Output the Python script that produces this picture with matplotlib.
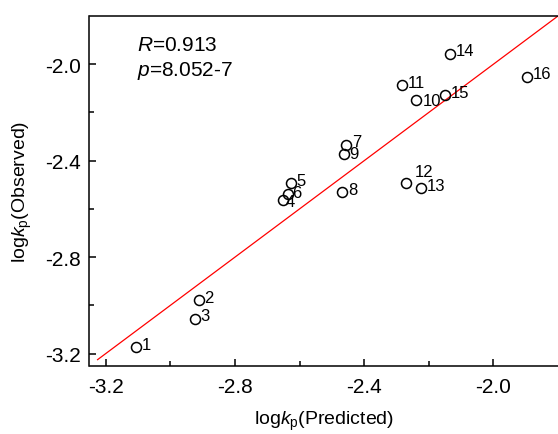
import matplotlib
matplotlib.use('Agg')
import matplotlib.pyplot as plt

plt.rcParams['font.family'] = ['Liberation Sans', 'DejaVu Sans']
plt.rcParams['mathtext.fontset'] = 'custom'
plt.rcParams['mathtext.rm'] = 'Liberation Sans'
plt.rcParams['mathtext.it'] = 'Liberation Sans:italic'

# Predicted vs observed log kp
labels = ['1', '2', '3', '4', '5', '6', '7', '8', '9', '10', '11', '12', '13', '14', '15', '16']
predicted = [-3.105, -2.911, -2.925, -2.651, -2.626, -2.636, -2.455, -2.467, -2.462,
             -2.240, -2.282, -2.270, -2.224, -2.134, -2.149, -1.896]
observed = [-3.172, -2.979, -3.055, -2.563, -2.492, -2.537, -2.333, -2.529, -2.371,
            -2.149, -2.088, -2.492, -2.513, -1.956, -2.129, -2.052]
fit_range = [-3.225, -1.8]
ticks = [-3.2, -2.8, -2.4, -2.0]
minor_ticks = [-3.0, -2.6, -2.2]

fig = plt.figure(figsize=(5.58, 4.35), dpi=100)
ax = fig.add_axes([89.5 / 558, (435 - 366.7) / 435, 1 - 89.5 / 558, (366.7 - 17) / 435])

ax.plot(fit_range, fit_range, color='red', lw=0.9)
ax.plot(predicted, observed, 'o', ms=7.2, mfc='none', mec='black', mew=1.1)

# label offsets in points (default right of marker)
offsets = {'4': (2, -1), '6': (3, 1), '7': (4, 2), '9': (4, 0), '12': (6, 8), '10': (5, 0)}
for lab, xv, yv in zip(labels, predicted, observed):
    dx, dy = offsets.get(lab, (4, 2))
    ax.annotate(lab, (xv, yv), xytext=(dx, dy), textcoords='offset points',
                ha='left', va='center', fontsize=12)

ax.set_xlim(-3.25, -1.8)
ax.set_ylim(-3.25, -1.8)
ax.set_xticks(ticks)
ax.set_yticks(ticks)
ax.set_xticks(minor_ticks, minor=True)
ax.set_yticks(minor_ticks, minor=True)
ax.set_xticklabels(['%.1f' % t for t in ticks])
ax.set_yticklabels(['%.1f' % t for t in ticks])
ax.tick_params(which='both', direction='in', labelsize=15, width=1.1)
ax.tick_params(which='major', length=5)
ax.tick_params(axis='x', pad=8)
ax.tick_params(axis='y', pad=6)
ax.tick_params(which='minor', length=3.5)
ax.spines['right'].set_visible(False)
for s in ['left', 'bottom', 'top']:
    ax.spines[s].set_linewidth(1.1)

ax.text(0.101, 0.945, '$R$=0.913\n$p$=8.052-7', transform=ax.transAxes,
        ha='left', va='top', fontsize=15, linespacing=1.3)

ax.set_xlabel(r'log$k_{\mathrm{p}}$(Predicted)', fontsize=14, labelpad=9)
ax.set_ylabel(r'log$k_{\mathrm{p}}$(Observed)', fontsize=14, labelpad=8)

fig.savefig('out.png', dpi=100)
